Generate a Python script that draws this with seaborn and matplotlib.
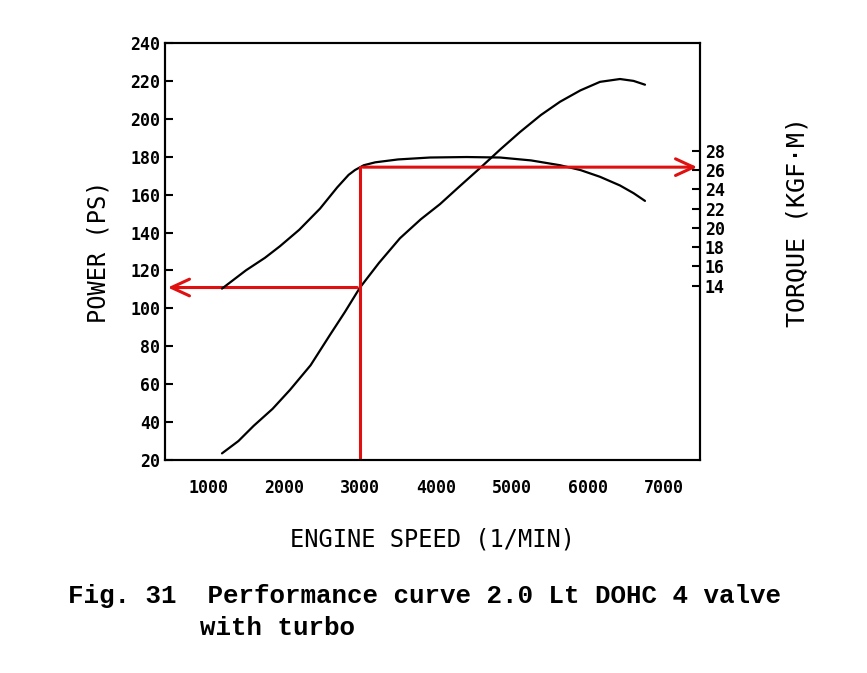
import numpy as np
import matplotlib.pyplot as plt
import seaborn as sns

sns.set_style("white")
plt.rcParams['font.family'] = ['DejaVu Sans Mono', 'DejaVu Sans']
plt.rcParams['text.color'] = 'black'
plt.rcParams['axes.labelcolor'] = 'black'
plt.rcParams['xtick.color'] = 'black'
plt.rcParams['ytick.color'] = 'black'

# Datos
rpm_power = [1184, 1400, 1600, 1850, 2079, 2350, 2605, 2800, 3000, 3250, 3526, 3800,
             4053, 4300, 4579, 4850, 5105, 5380, 5632, 5900, 6158, 6421, 6600, 6750]
power_ps = [23.5, 30, 38, 47, 57, 70, 86, 98, 111, 124, 137, 147,
            155, 164, 174, 184, 193, 202, 209, 215, 219.5, 221, 220, 218]

rpm_torque = [1184, 1500, 1750, 1947, 2200, 2474, 2700, 2850, 2934, 3050, 3200, 3500,
              3921, 4400, 4842, 5250, 5632, 5900, 6158, 6421, 6600, 6750]
torque_kgfm = [13.7, 15.6, 16.9, 18.1, 19.8, 22.0, 24.2, 25.5, 26.0, 26.5, 26.8, 27.1,
               27.3, 27.35, 27.3, 27.0, 26.5, 26.0, 25.3, 24.4, 23.6, 22.8]

power_ticks = list(range(20, 241, 20))
torque_ticks = list(range(14, 29, 2))
rpm_ticks = list(range(1000, 7001, 1000))

marked_rpm = 3000
marked_power = 111
marked_torque = 26.3

fig = plt.figure(figsize=(8.67, 6.73), dpi=100)
ax = fig.add_axes([165/867, 1 - 460/673, 535/867, 417/673])
ax2 = ax.twinx()

sns.lineplot(x=rpm_power, y=power_ps, ax=ax, color='black', lw=1.6)
sns.lineplot(x=rpm_torque, y=torque_kgfm, ax=ax2, color='black', lw=1.6)

x0, x1 = 434, 7474
ax.set_xlim(x0, x1)
ax.set_ylim(20, 240)
ax2.set_ylim(-4.08, 39.18)

ax.set_xticks(rpm_ticks)
ax.set_yticks(power_ticks)
ax2.set_yticks(torque_ticks)
for a in (ax, ax2):
    a.tick_params(direction='in', length=6, width=1.5, labelsize=12)
    for s in a.spines.values():
        s.set_linewidth(1.5)
        s.set_color('black')
ax.tick_params(axis='x', pad=14)
for lab in ax.get_xticklabels() + ax.get_yticklabels() + ax2.get_yticklabels():
    lab.set_fontweight('bold')
ax.grid(False)
ax2.grid(False)

ax.set_xlabel('ENGINE SPEED (1/MIN)', fontsize=17, labelpad=22)
ax.set_ylabel('POWER (PS)', fontsize=17, labelpad=14)
ax2.set_ylabel('TORQUE (KGF·M)', fontsize=18)
ax2.yaxis.set_label_coords(1.16, 0.57)

red = '#e01010'
# Líneas rojas de lectura
ax2.plot([marked_rpm, marked_rpm], [-4.08, marked_torque], color=red, lw=2.2)
ax.annotate('', xy=(x0, marked_power), xytext=(marked_rpm, marked_power),
            arrowprops=dict(arrowstyle='->,head_length=1.3,head_width=0.6', color=red, lw=2.2))
ax2.annotate('', xy=(x1, marked_torque), xytext=(marked_rpm, marked_torque),
             arrowprops=dict(arrowstyle='->,head_length=1.3,head_width=0.6', color=red, lw=2.2))

fig.text(68/867, 1 - 596/673, 'Fig. 31  Performance curve 2.0 Lt DOHC 4 valve',
         fontsize=18.6, fontweight='bold', family='Liberation Mono', va='center')
fig.text(200/867, 1 - 628/673, 'with turbo',
         fontsize=18.6, fontweight='bold', family='Liberation Mono', va='center')

fig.savefig('out.png', dpi=100)
